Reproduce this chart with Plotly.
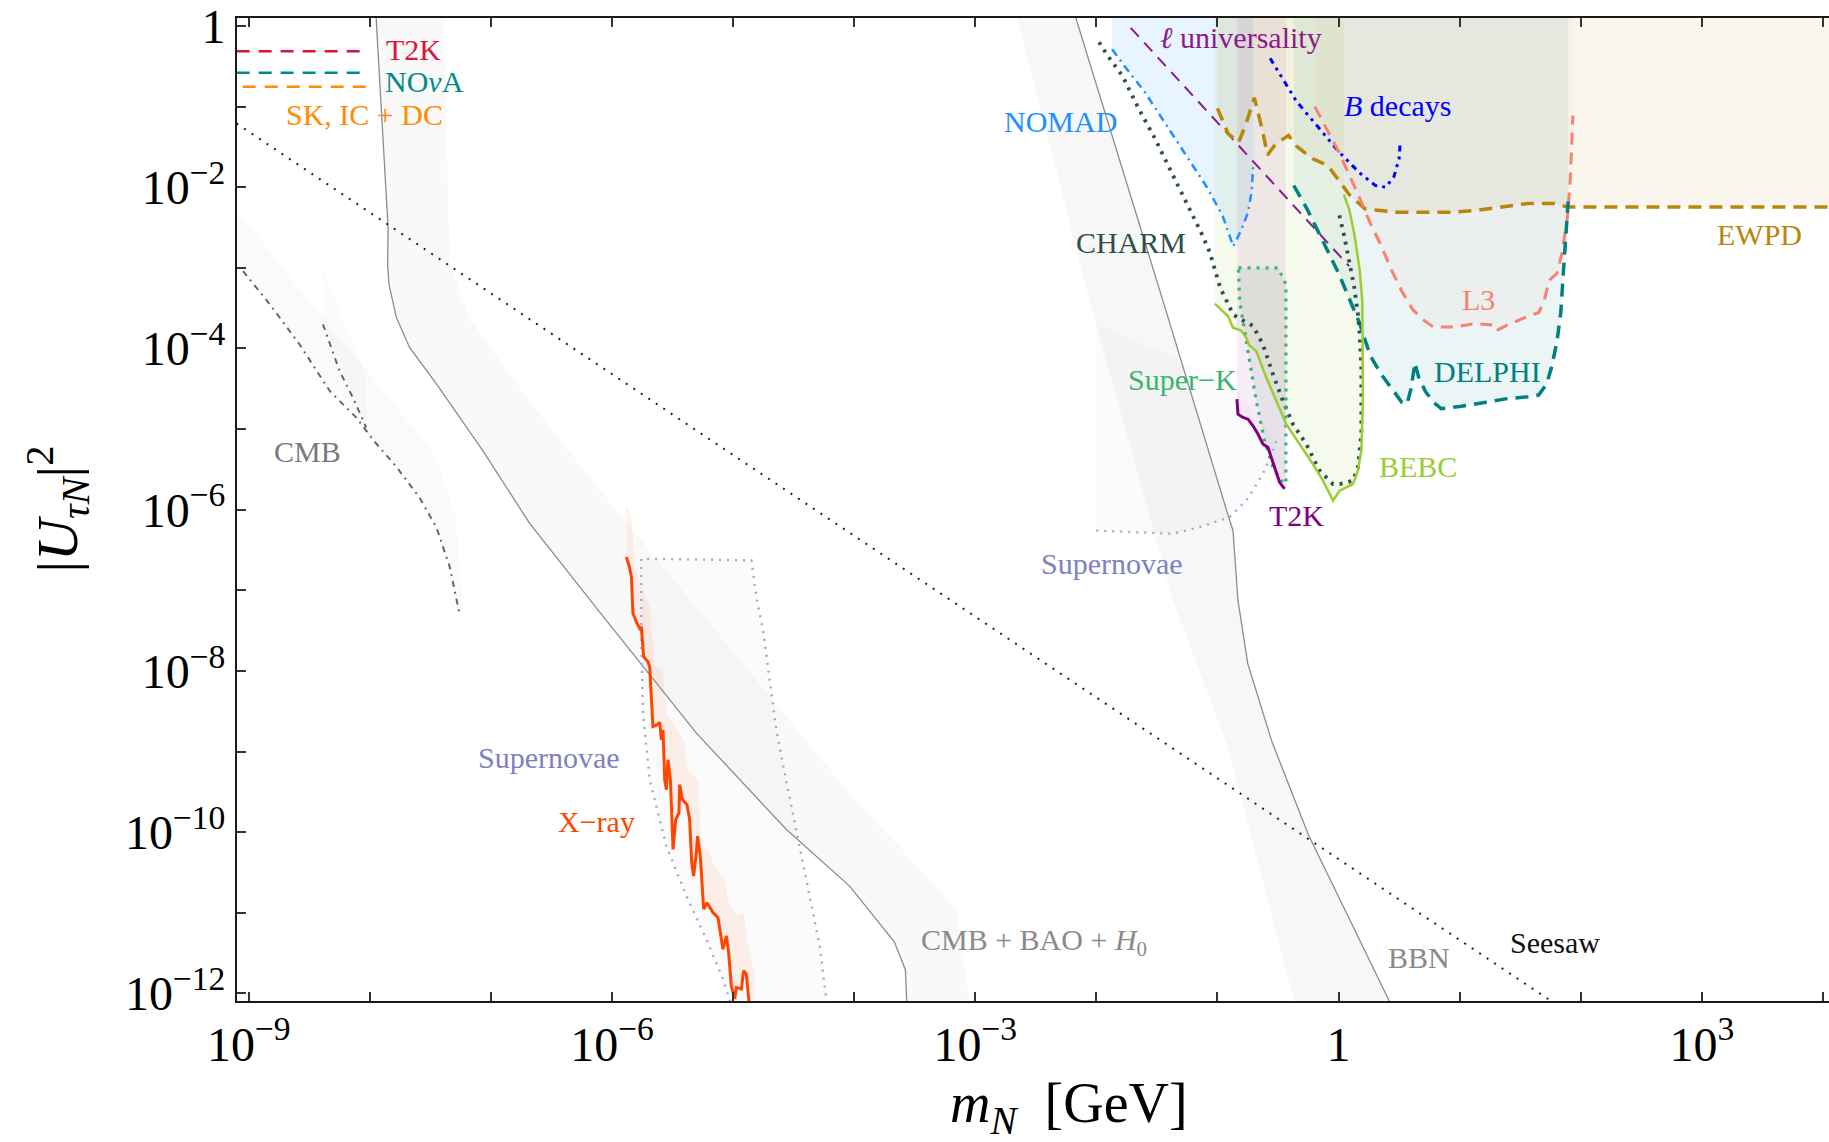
import numpy as np
import plotly.graph_objects as go

# ---------------- data: log10(m_N / GeV) and log10(|U_tauN|^2) ----------------
x_tick_exp = list(range(-9, 5))
x_tick_lab = {-9: "10<sup>−9</sup>", -6: "10<sup>−6</sup>", -3: "10<sup>−3</sup>", 0: "1", 3: "10<sup>3</sup>"}
y_tick_exp = list(range(-12, 1))
y_tick_lab = {0: "1", -2: "10<sup>−2</sup>", -4: "10<sup>−4</sup>", -6: "10<sup>−6</sup>",
              -8: "10<sup>−8</sup>", -10: "10<sup>−10</sup>", -12: "10<sup>−12</sup>"}

seesaw_lm = [-9.1, 1.76]
seesaw_lu = [-1.21, -12.1]

t2k_osc_lm = [-9.1, -8.054]
t2k_osc_lu = [-0.312, -0.312]
nova_lm = [-9.1, -8.054]
nova_lu = [-0.58, -0.58]
skic_lm = [-9.05, -8.007]
skic_lu = [-0.753, -0.753]

bbn_lm = [-2.19, -1.45, -0.90, -0.872, -0.831, -0.75, -0.55, -0.25, 0.42, 0.45]
bbn_lu = [0.2, -3.41, -6.13, -6.258, -7.124, -7.91, -8.88, -10.03, -12.1, -12.2]
bbn_edge_lm = [-0.35, -0.916, -1.368, -2.056, -2.67]
bbn_edge_lu = [-12.2, -8.93, -7.12, -3.41, 0.2]

cbh_lm = [-7.95, -7.944, -7.849, -7.853, -7.842, -7.78, -7.671, -7.45, -7.066, -6.68, -6.102,
          -5.303, -4.56, -4.038, -3.669, -3.577, -3.567, -3.567]
cbh_lu = [0.2, -0.01, -2.506, -2.955, -3.206, -3.62, -3.99, -4.44, -5.27, -6.17, -7.27,
          -8.772, -9.968, -10.67, -11.36, -11.71, -12.08, -12.2]
cbh_edge_lm = [-3.04, -3.15, -4.04, -6.10, -6.68, -7.18, -7.34, -7.39]
cbh_edge_lu = [-12.2, -10.96, -9.51, -5.76, -4.65, -3.62, -2.92, 0.2]

cmb_up_lm = [-9.2, -9.09, -8.61, -8.06, -7.62, -7.45, -7.29, -7.23]
cmb_up_lu = [-2.2, -2.30, -3.21, -4.20, -5.02, -5.35, -6.09, -7.29]
cmb_a_lm = [-9.047, -8.827, -8.58, -8.33, -8.11, -7.97, -7.78, -7.59, -7.45, -7.34, -7.26]
cmb_a_lu = [-3.04, -3.45, -3.95, -4.53, -4.86, -5.14, -5.47, -5.85, -6.22, -6.71, -7.29]
cmb_b_lm = [-8.387, -8.25, -8.14, -8.03]
cmb_b_lu = [-3.70, -4.28, -4.61, -4.98]
cmb_b_fill_lm = [-8.387, -8.028, -8.028, -8.387]
cmb_b_fill_lu = [-3.0, -4.36, -4.98, -3.70]

xray_lm = [-5.882, -5.860, -5.840, -5.827, -5.799, -5.772, -5.758, -5.739, -5.703, -5.689,
           -5.662, -5.629, -5.606, -5.592, -5.579, -5.565, -5.551, -5.538, -5.518, -5.496,
           -5.474, -5.447, -5.441, -5.419, -5.381, -5.359, -5.342, -5.326, -5.304, -5.293,
           -5.271, -5.243, -5.216, -5.166, -5.125, -5.106, -5.084, -5.056, -5.037, -5.015,
           -4.987, -4.973, -4.932, -4.913, -4.891, -4.869]
xray_lu = [-6.587, -6.690, -6.835, -7.288, -7.391, -7.474, -7.453, -7.824, -7.886, -7.948,
           -8.690, -8.670, -8.640, -8.855, -8.731, -9.350, -9.473, -9.102, -9.350, -10.215,
           -9.844, -9.762, -9.411, -9.597, -9.659, -9.844, -10.380, -10.545, -10.257, -10.050,
           -10.298, -10.957, -10.875, -10.999, -11.060, -11.226, -11.452, -11.288, -11.494, -11.906,
           -12.07, -11.926, -11.947, -11.720, -11.761, -12.10]
xray_env_lm = [-5.882, -5.840, -5.813, -5.758, -5.689, -5.648, -5.579, -5.551, -5.455, -5.400,
               -5.372, -5.290, -5.262, -5.207, -5.152, -5.070, -5.042, -4.968, -4.913, -4.877,
               -4.830, -4.814]
xray_env_lu = [-5.927, -6.093, -6.670, -6.958, -7.206, -7.948, -7.989, -8.525, -8.731, -8.896,
               -9.226, -9.350, -10.174, -10.215, -10.422, -10.587, -10.875, -11.040, -10.999, -11.411,
               -11.700, -12.10]

sn_low_lm = [-5.005, -5.084, -5.221, -5.386, -5.551, -5.689, -5.744, -5.758, -5.758, -4.849,
             -4.808, -4.753, -4.698, -4.643, -4.574, -4.506, -4.450, -4.395, -4.340, -4.285, -4.22]
sn_low_lu = [-12.2, -11.823, -11.329, -10.793, -10.174, -9.350, -8.525, -7.700, -6.608, -6.628,
             -7.082, -7.494, -8.113, -8.731, -9.267, -9.762, -10.174, -10.587, -10.999, -11.411, -12.2]

sn_up_lm = [-2.001, -1.698, -1.368, -1.148, -0.900, -0.762, -0.625, -0.542, -0.514]
sn_up_lu = [-6.258, -6.278, -6.299, -6.217, -6.093, -5.887, -5.557, -5.268, -5.145]
sn_up_top_lm = [-0.9, -2.001]
sn_up_top_lu = [-4.4, -3.7]

nomad_lm = [-1.870, -1.761, -1.609, -1.435, -1.261, -1.087, -0.957, -0.870, -0.804, -0.748, -0.717, -0.704]
nomad_lu = [-0.289, -0.511, -0.80, -1.2, -1.6, -2.0, -2.356, -2.733, -2.533, -2.311, -2.044, -1.689]

lepu_lm = [-1.717, 0.087]
lepu_lu = [-0.022, -2.978]

bdec_lm = [-0.565, -0.348, -0.174, 0.0, 0.174, 0.304, 0.391, 0.457, 0.5, 0.509]
bdec_lu = [-0.4, -0.933, -1.244, -1.556, -1.822, -1.978, -2.0, -1.867, -1.644, -1.444]

ewpd_lm = [-1.0, -0.913, -0.826, -0.761, -0.696, -0.630, -0.587, -0.522, -0.413, -0.348, -0.217,
           -0.087, 0.0, 0.087, 0.217, 0.478, 0.913, 1.13, 1.348, 1.565, 1.783, 1.891, 4.1]
ewpd_lu = [-1.022, -1.333, -1.444, -1.2, -0.889, -1.289, -1.6, -1.467, -1.356, -1.489, -1.644,
           -1.733, -1.911, -2.089, -2.267, -2.311, -2.311, -2.289, -2.244, -2.2, -2.2, -2.244, -2.244]

l3_lm = [-0.196, 0.0, 0.174, 0.261, 0.348, 0.435, 0.522, 0.609, 0.696, 0.783, 0.957, 1.130, 1.283,
         1.304, 1.391, 1.565, 1.652, 1.696, 1.739, 1.804, 1.848, 1.891, 1.913, 1.926, 1.935]
l3_lu = [-1.0, -1.556, -2.133, -2.444, -2.711, -3.022, -3.289, -3.511, -3.644, -3.733, -3.733, -3.689,
         -3.711, -3.778, -3.711, -3.6, -3.556, -3.422, -3.156, -3.067, -2.8, -2.356, -1.911, -1.467, -1.111]

delphi_lm = [-0.370, -0.261, -0.174, -0.087, 0.0, 0.087, 0.174, 0.261, 0.348, 0.435, 0.522, 0.565,
             0.6, 0.630, 0.661, 0.717, 0.783, 0.848, 1.0, 1.217, 1.391, 1.565, 1.652, 1.717, 1.761,
             1.804, 1.835, 1.852, 1.870, 1.883, 1.896]
delphi_lu = [-1.978, -2.267, -2.533, -2.8, -3.067, -3.378, -3.689, -4.089, -4.311, -4.489, -4.667,
             -4.689, -4.489, -4.178, -4.356, -4.533, -4.667, -4.747, -4.720, -4.667, -4.622, -4.6,
             -4.578, -4.444, -4.222, -3.911, -3.556, -3.156, -2.711, -2.356, -2.178]

charm_lm = [-1.978, -1.913, -1.783, -1.652, -1.522, -1.391, -1.283, -1.196, -1.130, -1.065, -1.022,
            -0.978, -0.935, -0.87, -0.78, -0.707, -0.625, -0.542, -0.459, -0.377, -0.267, -0.157,
            -0.046, 0.009, 0.119, 0.160, 0.188, 0.188, 0.174, 0.160, 0.13, 0.087, 0.043, 0.0]
charm_lu = [-0.2, -0.356, -0.622, -1.022, -1.378, -1.778, -2.089, -2.356, -2.578, -2.8, -3.022,
            -3.244, -3.378, -3.58, -3.66, -3.72, -3.949, -4.320, -4.650, -4.939, -5.186, -5.516,
            -5.681, -5.681, -5.639, -5.475, -5.062, -4.238, -3.825, -3.578, -3.244, -2.889, -2.578, -2.311]

bebc_lm = [-1.022, -0.913, -0.872, -0.804, -0.762, -0.739, -0.680, -0.597, -0.514, -0.432, -0.322,
           -0.212, -0.129, -0.046, 0.009, 0.064, 0.119, 0.160, 0.188, 0.201, 0.201, 0.196, 0.174,
           0.13, 0.087, 0.043]
bebc_lu = [-3.444, -3.6, -3.743, -3.778, -3.867, -3.956, -4.031, -4.361, -4.650, -4.938, -5.186,
           -5.433, -5.639, -5.887, -5.763, -5.722, -5.681, -5.516, -5.268, -4.650, -3.825, -3.413,
           -3.022, -2.578, -2.267, -2.089]

superk_lm = [-0.826, -0.5, -0.435, -0.435, -0.446, -0.473, -0.542, -0.611, -0.680, -0.748, -0.817, -0.826]
superk_lu = [-3.0, -3.0, -3.2, -5.68, -5.66, -5.639, -5.475, -5.145, -4.650, -4.031, -3.413, -3.0]

t2k_lm = [-0.839, -0.831, -0.790, -0.748, -0.707, -0.666, -0.625, -0.583, -0.556, -0.520, -0.487, -0.446]
t2k_lu = [-4.629, -4.815, -4.856, -4.877, -4.959, -5.062, -5.186, -5.227, -5.351, -5.516, -5.660, -5.742]

# labels: (text, log10 m, log10 U^2, colour)
labels = [
    ("T2K", -7.638, -0.296, "#dc143c"),
    ("NO<i>ν</i>A", -7.547, -0.692, "#008b8b"),
    ("SK, IC + DC", -8.046, -1.094, "#ff8c00"),
    ("CMB", -8.511, -5.278, "#7a7a7a"),
    ("Supernovae", -6.52, -9.08, "#8080c0"),
    ("X−ray", -6.125, -9.874, "#ff4500"),
    ("CMB + BAO + <i>H</i><sub>0</sub>", -2.518, -11.36, "#8a8a8a"),
    ("BBN", 0.666, -11.56, "#8a8a8a"),
    ("Seesaw", 1.786, -11.366, "#111111"),
    ("CHARM", -1.712, -2.684, "#2f4f4f"),
    ("NOMAD", -2.296, -1.178, "#1e90ff"),
    ("<i>ℓ</i> universality", -0.804, -0.142, "#8b1a8b"),
    ("<i>B</i> decays", 0.487, -0.991, "#0000ff"),
    ("EWPD", 3.478, -2.587, "#b8860b"),
    ("L3", 1.152, -3.387, "#fa8072"),
    ("DELPHI", 1.226, -4.289, "#008080"),
    ("Super−K", -1.293, -4.382, "#3cb371"),
    ("BEBC", 0.655, -5.462, "#9acd32"),
    ("T2K", -0.344, -6.072, "#800080"),
    ("Supernovae", -1.871, -6.67, "#8080c0"),
]


def P(v):
    return np.power(10.0, np.asarray(v, dtype=float))


fig = go.Figure()


def fill(lm, lu, color):
    fig.add_trace(go.Scatter(x=P(lm), y=P(lu), mode="lines", fill="toself", fillcolor=color,
                             line=dict(width=0, color="rgba(0,0,0,0)"), hoverinfo="skip"))


def line(lm, lu, color, width=2, dash="solid"):
    fig.add_trace(go.Scatter(x=P(lm), y=P(lu), mode="lines",
                             line=dict(color=color, width=width, dash=dash), hoverinfo="skip"))


TOP = 0.2
# ---- fills ----
fill(cmb_up_lm + cmb_a_lm[::-1] + [-9.2], cmb_up_lu + cmb_a_lu[::-1] + [-2.88], "rgba(0,0,0,0.018)")
fill(cmb_b_fill_lm, cmb_b_fill_lu, "rgba(0,0,0,0.015)")
fill(cbh_lm + cbh_edge_lm, cbh_lu + cbh_edge_lu, "rgba(0,0,0,0.025)")
fill(bbn_lm + bbn_edge_lm, bbn_lu + bbn_edge_lu, "rgba(0,0,0,0.03)")
fill(sn_low_lm, sn_low_lu, "rgba(0,0,0,0.015)")
fill(sn_up_lm + sn_up_top_lm, sn_up_lu + sn_up_top_lu, "rgba(0,0,0,0.015)")
fill(xray_lm + xray_env_lm[::-1], xray_lu + xray_env_lu[::-1], "rgba(255,69,0,0.07)")
fill([nomad_lm[0]] + nomad_lm + [nomad_lm[-1]], [TOP] + nomad_lu + [TOP], "rgba(30,144,255,0.10)")
fill([ewpd_lm[0]] + ewpd_lm + [ewpd_lm[-1]], [TOP] + ewpd_lu + [TOP], "rgba(184,134,11,0.07)")
fill([l3_lm[0]] + l3_lm + [l3_lm[-1]], [TOP] + l3_lu + [TOP], "rgba(250,128,114,0.05)")
fill([delphi_lm[0]] + delphi_lm + [delphi_lm[-1]], [TOP] + delphi_lu + [TOP], "rgba(0,128,128,0.08)")
fill([bebc_lm[0]] + bebc_lm + [bebc_lm[-1]], [TOP] + bebc_lu + [TOP], "rgba(154,205,50,0.09)")
fill([t2k_lm[0]] + t2k_lm + [-0.435, -0.435], [TOP] + t2k_lu + [-5.742, TOP], "rgba(128,0,128,0.07)")
fill(superk_lm, superk_lu, "rgba(47,79,79,0.07)")

# ---- lines ----
line(cbh_lm, cbh_lu, "#8c8c8c", 1.3)
line(bbn_lm, bbn_lu, "#8c8c8c", 1.3)
line(cmb_a_lm, cmb_a_lu, "#666666", 2, "6px,5px,2px,5px")
line(cmb_b_lm, cmb_b_lu, "#666666", 2, "6px,5px,2px,5px")
line(seesaw_lm, seesaw_lu, "#222222", 2, "2px,7px")
line(t2k_osc_lm, t2k_osc_lu, "#dc143c", 2.5, "13px,9px")
line(nova_lm, nova_lu, "#008b8b", 2.5, "13px,9px")
line(skic_lm, skic_lu, "#ff8c00", 2.5, "13px,9px")
line(sn_low_lm, sn_low_lu, "#a4a4dc", 2.4, "2px,6px")
line(sn_up_lm, sn_up_lu, "#a4a4dc", 2.4, "2px,6px")
line(xray_lm, xray_lu, "#ff4500", 3)
line(nomad_lm, nomad_lu, "#1e90ff", 2.5, "8px,5px,2px,5px")
line(lepu_lm, lepu_lu, "#8b1a8b", 2, "12px,8px")
line(bdec_lm, bdec_lu, "#0000ff", 3, "6px,5px,3px,5px,3px,5px")
line(ewpd_lm, ewpd_lu, "#b8860b", 3.5, "13px,8px")
line(l3_lm, l3_lu, "#fa8072", 3, "12px,8px")
line(delphi_lm, delphi_lu, "#008080", 3.5, "13px,8px")
line(charm_lm, charm_lu, "#2f4f4f", 3.8, "3px,6px")
line(superk_lm, superk_lu, "#3cb371", 3.2, "3px,6px")
line(bebc_lm, bebc_lu, "#9acd32", 2.5)
line(t2k_lm, t2k_lu, "#800080", 3)

for txt, lx, ly, col in labels:
    fig.add_annotation(x=lx, y=ly, xref="x", yref="y", text=txt, showarrow=False,
                       font=dict(family="Liberation Serif", size=30, color=col),
                       xanchor="center", yanchor="middle")

# axis titles
fig.add_annotation(x=0.5226, y=-0.108, xref="paper", yref="paper",
                   text="<i>m</i><sub><i>N</i></sub>  [GeV]", showarrow=False,
                   font=dict(family="Liberation Serif", size=56, color="black"),
                   xanchor="center", yanchor="middle")
fig.add_annotation(x=-0.113, y=0.5, xref="paper", yref="paper", textangle=-90,
                   text="|<i>U</i><sub><i>τN</i></sub>|<sup>2</sup>", showarrow=False,
                   font=dict(family="Liberation Serif", size=58, color="black"),
                   xanchor="center", yanchor="middle")

fig.update_xaxes(type="log", range=[-9.097, 4.05], showgrid=False, zeroline=False,
                 showline=True, linecolor="#1a1a1a", linewidth=2, mirror="ticks",
                 ticks="inside", ticklen=9, tickwidth=1.5, tickcolor="#333333",
                 tickvals=[10.0 ** k for k in x_tick_exp],
                 ticktext=[x_tick_lab.get(k, "") for k in x_tick_exp],
                 ticklabeloverflow="allow",
                 tickfont=dict(family="Liberation Serif", size=48, color="black"))
fig.update_yaxes(type="log", range=[-12.095, 0.1], showgrid=False, zeroline=False,
                 showline=True, linecolor="#1a1a1a", linewidth=2, mirror=False,
                 ticks="inside", ticklen=9, tickwidth=1.5, tickcolor="#333333",
                 tickvals=[10.0 ** k for k in y_tick_exp],
                 ticktext=[y_tick_lab.get(k, "") for k in y_tick_exp],
                 ticklabeloverflow="allow",
                 tickfont=dict(family="Liberation Serif", size=48, color="black"))

fig.update_layout(width=1829, height=1142, autosize=False,
                  margin=dict(l=237, r=0, t=16, b=141, pad=0),
                  plot_bgcolor="white", paper_bgcolor="white", showlegend=False)

fig.write_html("out.html", config={"displayModeBar": False},
               post_script="document.body.style.margin='0px';")
